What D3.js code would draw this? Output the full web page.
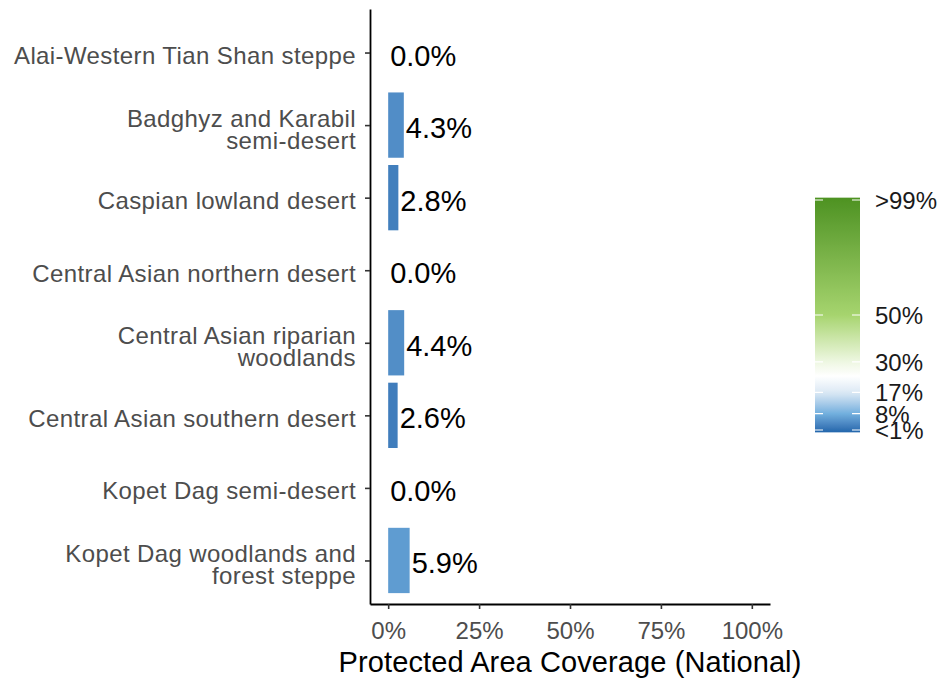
<!DOCTYPE html>
<html lang="en">
<head>
  <meta charset="UTF-8">
  <title>Protected Area Coverage</title>
  <script src="https://d3js.org/d3.v7.min.js"></script>
  <style>
    body { margin: 0; background: #fff; }
    text { font-family: "Liberation Sans", Arial, sans-serif; }
    .axis .domain { stroke: #000; stroke-width: 1.8px; }
    .axis .tick line { stroke: #333; stroke-width: 1.6px; }
    .axis .tick text { fill: #4d4d4d; font-size: 24px; }
    .yaxis .tick text { letter-spacing: 0.4px; }
  </style>
</head>
<body>
  <svg id="chart" width="940" height="681"></svg>
  <script>
    const categories = [
      'Alai-Western Tian Shan steppe',
      'Badghyz and Karabil\nsemi-desert',
      'Caspian lowland desert',
      'Central Asian northern desert',
      'Central Asian riparian\nwoodlands',
      'Central Asian southern desert',
      'Kopet Dag semi-desert',
      'Kopet Dag woodlands and\nforest steppe'
    ];
    const coverage = [0.0, 4.3, 2.8, 0.0, 4.4, 2.6, 0.0, 5.9];
    const xTicks = [0, 25, 50, 75, 100];
    const legendBreaks = [1, 8, 17, 30, 50, 99];
    const legendLabels = ['<1%', '8%', '17%', '30%', '50%', '>99%'];
    const colorStops = [0, 8, 17, 24, 30, 50, 100];
    const colorValues = ['#2166ac', '#72b0de', '#dce9f5', '#ffffff', '#eef7e2', '#a6d46e', '#4d9221'];

    const svg = d3.select('#chart');

    const x = d3.scaleLinear().domain([-5, 105]).range([370, 770]);
    const y = d3.scalePoint().domain(categories).range([9, 604]).padding(0.6);
    const barH = y.step() * 0.9;
    const color = d3.scaleLinear().domain(colorStops).range(colorValues)
      .interpolate(d3.interpolateLab).clamp(true);

    // bars
    svg.append('g').selectAll('rect')
      .data(categories)
      .enter().append('rect')
      .attr('x', x(0))
      .attr('y', d => y(d) - barH / 2)
      .attr('width', (d, i) => x(coverage[i]) - x(0))
      .attr('height', barH)
      .attr('fill', (d, i) => color(coverage[i]));

    // value labels
    svg.append('g').selectAll('text')
      .data(categories)
      .enter().append('text')
      .attr('x', (d, i) => x(coverage[i]) + 2)
      .attr('y', d => y(d) + 13)
      .style('font-size', '29px')
      .attr('fill', '#000')
      .text((d, i) => coverage[i].toFixed(1) + '%');

    // x axis
    svg.append('g')
      .attr('class', 'axis')
      .attr('transform', 'translate(0,604)')
      .call(d3.axisBottom(x).tickValues(xTicks).tickFormat(d => d + '%')
        .tickSize(5).tickSizeOuter(0).tickPadding(13));

    // y axis
    const yAxis = svg.append('g')
      .attr('class', 'axis yaxis')
      .attr('transform', 'translate(370,0)')
      .call(d3.axisLeft(y).tickSize(5).tickSizeOuter(0));

    yAxis.selectAll('.tick text').each(function(d) {
      const t = d3.select(this);
      const lines = d.split('\n');
      t.text(null).attr('dy', null).attr('x', null);
      lines.forEach((line, i) => {
        t.append('tspan')
          .attr('x', -14)
          .attr('y', lines.length === 1 ? 11 : 1 + i * 22)
          .text(line);
      });
    });

    // x title
    svg.append('text')
      .attr('x', 570)
      .attr('y', 672)
      .attr('text-anchor', 'middle')
      .style('font-size', '29px')
      .style('letter-spacing', '0.1px')
      .attr('fill', '#000')
      .text('Protected Area Coverage (National)');

    // legend colour bar
    const leg = d3.scaleLinear().domain([1, 99]).range([430, 200]);
    const grad = svg.append('defs').append('linearGradient')
      .attr('id', 'legGrad')
      .attr('x1', 0).attr('y1', 1).attr('x2', 0).attr('y2', 0);
    d3.range(0, 101, 2).forEach(v => {
      grad.append('stop').attr('offset', v / 100).attr('stop-color', color(v));
    });

    const legend = svg.append('g');
    legend.append('rect')
      .attr('x', 815)
      .attr('y', leg(100))
      .attr('width', 45)
      .attr('height', leg(0) - leg(100))
      .attr('fill', 'url(#legGrad)');

    legend.selectAll('.lt')
      .data(legendBreaks)
      .enter().append('path')
      .attr('d', d => `M815,${leg(d)}h8M852,${leg(d)}h8`)
      .attr('stroke', '#fff')
      .attr('stroke-width', 1.2);

    legend.selectAll('.ll')
      .data(legendBreaks)
      .enter().append('text')
      .attr('x', 875)
      .attr('y', d => leg(d) + 9)
      .style('font-size', '24px')
      .attr('fill', '#1a1a1a')
      .text((d, i) => legendLabels[i]);
  </script>
</body>
</html>
